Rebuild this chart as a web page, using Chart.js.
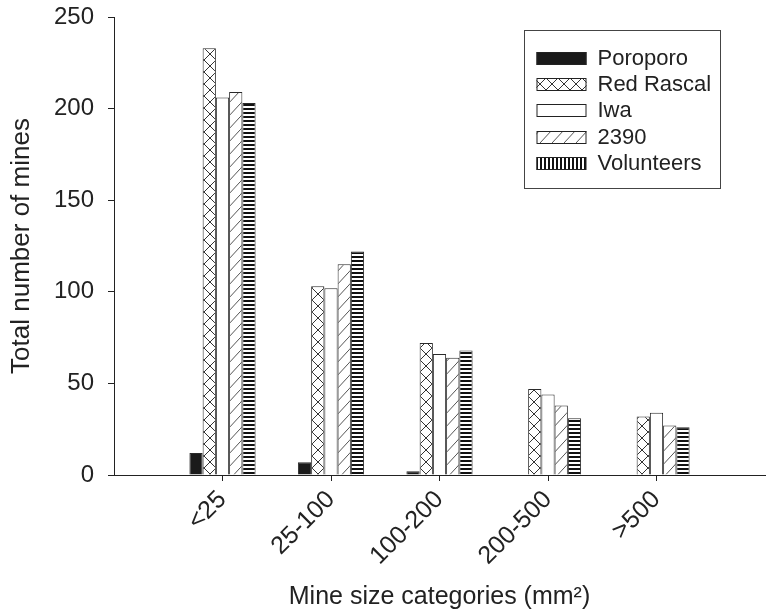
<!DOCTYPE html>
<html>
<head>
<meta charset="utf-8">
<script src="https://cdn.jsdelivr.net/npm/chart.js@4/dist/chart.umd.min.js"></script>
<style>
html,body{margin:0;padding:0;background:#fff;}
#wrap{width:768px;height:614px;}
</style>
</head>
<body>
<div id="wrap"><canvas id="c" width="768" height="614"></canvas></div>
<script>
const categories = ['<25', '25-100', '100-200', '200-500', '>500'];
const poroporo   = [12, 7, 2, 0, 0];
const redRascal  = [233, 103, 72, 47, 32];
const iwa        = [206, 102, 66, 44, 34];
const s2390      = [209, 115, 64, 38, 27];
const volunteers = [203, 122, 68, 31, 26];
const seriesNames = ['Poroporo', 'Red Rascal', 'Iwa', '2390', 'Volunteers'];
const yTicks = [0, 50, 100, 150, 200, 250];

const FONT = '"Liberation Sans", Arial, sans-serif';

function makePattern(w, h, draw) {
  const c = document.createElement('canvas');
  c.width = w; c.height = h;
  const g = c.getContext('2d');
  g.fillStyle = '#fff';
  g.fillRect(0, 0, w, h);
  draw(g, w, h);
  return document.getElementById('c').getContext('2d').createPattern(c, 'repeat');
}
const crossPat = makePattern(12, 12, (g, w, h) => {
  g.strokeStyle = '#333'; g.lineWidth = 1;
  g.beginPath();
  g.moveTo(0, 0); g.lineTo(w, h);
  g.moveTo(w, 0); g.lineTo(0, h);
  g.stroke();
});
const diagPat = makePattern(12, 13, (g, w, h) => {
  g.strokeStyle = '#555'; g.lineWidth = 1;
  g.beginPath();
  g.moveTo(0, h); g.lineTo(w, 0);
  g.moveTo(-w, h); g.lineTo(0, 0);
  g.moveTo(w, 2 * h); g.lineTo(2 * w, h);
  g.stroke();
});
const hLinePat = makePattern(4, 4, (g) => {
  g.fillStyle = '#111'; g.fillRect(0, 0, 4, 2);
});
const vLinePat = makePattern(4, 4, (g) => {
  g.fillStyle = '#111'; g.fillRect(0, 0, 2, 4);
});

const barFills = ['#1a1a1a', crossPat, '#ffffff', diagPat, hLinePat];
const legendFills = ['#1a1a1a', crossPat, '#ffffff', diagPat, vLinePat];
const seriesValues = [poroporo, redRascal, iwa, s2390, volunteers];

const labels = [''].concat(categories, ['']);
const datasets = seriesNames.map((name, i) => ({
  label: name,
  data: [null].concat(seriesValues[i], [null]),
  backgroundColor: barFills[i],
  borderColor: '#2a2a2a',
  borderWidth: 1,
  categoryPercentage: 0.61,
  barPercentage: 1.0
}));

const boxLegend = {
  id: 'boxLegend',
  afterDraw(chart) {
    const ctx = chart.ctx;
    const a = chart.chartArea;
    const bx = Math.round(a.right - 241) + 0.5;
    const by = Math.round(a.top + 13) + 0.5;
    ctx.save();
    ctx.strokeStyle = '#444';
    ctx.lineWidth = 1;
    ctx.strokeRect(bx, by, 196, 158);
    chart.data.datasets.forEach((ds, i) => {
      const cy = by + 27 + i * 26.4;
      const sx = bx + 12;
      ctx.fillStyle = legendFills[i];
      ctx.fillRect(sx, Math.round(cy - 6), 50, 13);
      ctx.strokeStyle = '#222';
      ctx.strokeRect(sx + 0.5, Math.round(cy - 6) + 0.5, 49, 12);
      ctx.fillStyle = '#222';
      ctx.font = '22px ' + FONT;
      ctx.textBaseline = 'middle';
      ctx.textAlign = 'left';
      ctx.fillText(ds.label, bx + 73, cy + 1);
    });
    ctx.restore();
  }
};

new Chart(document.getElementById('c'), {
  type: 'bar',
  data: { labels: labels, datasets: datasets },
  options: {
    responsive: false,
    animation: false,
    layout: { padding: { top: 17, right: 3, left: 0, bottom: 0 } },
    plugins: { legend: { display: false }, tooltip: { enabled: false } },
    scales: {
      x: {
        type: 'category',
        offset: false,
        grid: {
          offset: false,
          drawOnChartArea: false,
          drawTicks: true,
          tickLength: 6,
          color: (c) => (c.index === 0 || c.index === labels.length - 1) ? 'rgba(0,0,0,0)' : '#222',
          lineWidth: 1
        },
        border: { display: true, color: '#222', width: 1 },
        ticks: {
          color: '#222',
          font: { family: FONT, size: 25 },
          minRotation: 45,
          maxRotation: 45,
          autoSkip: false,
          padding: 4
        },
        title: {
          display: true,
          text: 'Mine size categories (mm²)',
          color: '#222',
          font: { family: FONT, size: 25 },
          padding: { top: 2, bottom: 2 }
        },
        afterFit: (s) => { s.height = 139; s.paddingLeft = 0; s.paddingRight = 0; }
      },
      y: {
        min: 0,
        max: 250,
        afterBuildTicks: (s) => { s.ticks = yTicks.map(v => ({ value: v })); },
        grid: {
          drawOnChartArea: false,
          drawTicks: true,
          tickLength: 6,
          color: '#222',
          lineWidth: 1
        },
        border: { display: true, color: '#222', width: 1 },
        ticks: {
          color: '#222',
          font: { family: FONT, size: 24 },
          padding: 14
        },
        title: {
          display: true,
          text: 'Total number of mines',
          color: '#222',
          font: { family: FONT, size: 26 },
          padding: { top: 6, bottom: 2 }
        },
        afterFit: (s) => { s.width = 114; s.paddingTop = 0; s.paddingBottom = 0; }
      }
    }
  },
  plugins: [boxLegend]
});
</script>
</body>
</html>
